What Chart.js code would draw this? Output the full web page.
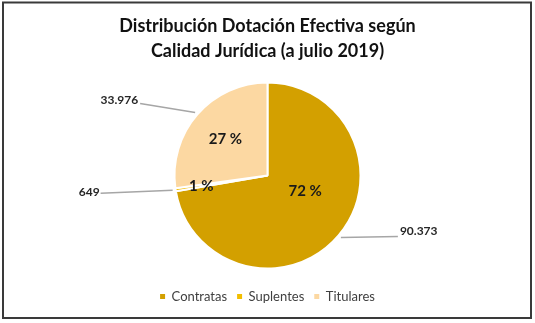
<!DOCTYPE html>
<html>
<head>
<meta charset="utf-8">
<script src="https://cdn.jsdelivr.net/npm/chart.js@4/dist/chart.umd.min.js"></script>
<style>
  html, body { margin: 0; padding: 0; background: #ffffff; }
  #wrap { width: 535px; height: 323px; position: relative; }
</style>
</head>
<body>
<div id="wrap"><canvas id="c" width="535" height="323"></canvas></div>
<script>
const titleLines = ['Distribución Dotación Efectiva según', 'Calidad Jurídica (a julio 2019)'];
const categories = ['Contratas', 'Suplentes', 'Titulares'];
const values = [90373, 649, 33976];
const colors = ['#D3A000', '#F2BE00', '#FCD8A2'];

// label placement styles (relative to each slice geometry)
const pctPlacement = [{t: 0.435, r: 0.44}, {t: 0.5, r: 0.72}, {t: 0.5, r: 0.6}];
const leaderOffsets = [{dx: 57, dy: -1, tdx: 2, tdy: -5, align: 'left'},
                       {dx: -72, dy: 3, tdx: -1, tdy: -1, align: 'right'},
                       {dx: -55, dy: -9, tdx: -2, tdy: -3, align: 'right'}];

function fmtNum(n) { return String(n).replace(/\B(?=(\d{3})+(?!\d))/g, '.'); }

const FONT = 'Lato, "Open Sans", sans-serif';

const framePlugin = {
  id: 'frame',
  beforeDraw(chart) {
    const ctx = chart.ctx;
    ctx.save();
    ctx.fillStyle = '#ffffff';
    ctx.fillRect(0, 0, chart.width, chart.height);
    ctx.restore();
  },
  afterDraw(chart) {
    const ctx = chart.ctx;
    ctx.save();
    ctx.strokeStyle = '#3a3a3a';
    ctx.lineWidth = 2;
    ctx.strokeRect(3, 2.5, 528, 315.5);
    ctx.restore();
  }
};

const labelPlugin = {
  id: 'sliceLabels',
  afterDatasetsDraw(chart) {
    const ctx = chart.ctx;
    const meta = chart.getDatasetMeta(0);
    const data = chart.data.datasets[0].data;
    const total = data.reduce((a, b) => a + b, 0);
    ctx.save();
    meta.data.forEach((arc, i) => {
      const p = arc.getProps(['x', 'y', 'startAngle', 'endAngle', 'outerRadius'], true);
      const pl = pctPlacement[i];
      const a = p.startAngle + (p.endAngle - p.startAngle) * pl.t;
      const px = p.x + Math.cos(a) * p.outerRadius * pl.r;
      const py = p.y + Math.sin(a) * p.outerRadius * pl.r;
      ctx.font = 'bold 15px ' + FONT;
      ctx.fillStyle = '#1a1a1a';
      ctx.textAlign = 'center';
      ctx.textBaseline = 'middle';
      ctx.fillText(Math.round(data[i] / total * 100) + ' %', px, py);
      const mid = (p.startAngle + p.endAngle) / 2;
      const sx = p.x + Math.cos(mid) * (p.outerRadius + 3);
      const sy = p.y + Math.sin(mid) * (p.outerRadius + 3);
      const o = leaderOffsets[i];
      const ex = sx + o.dx, ey = sy + o.dy;
      ctx.strokeStyle = '#A6A6A6';
      ctx.lineWidth = 1.5;
      ctx.beginPath();
      ctx.moveTo(sx, sy);
      ctx.lineTo(ex, ey);
      ctx.stroke();
      ctx.font = 'bold 12px ' + FONT;
      ctx.fillStyle = '#262626';
      ctx.textAlign = o.align;
      ctx.fillText(fmtNum(data[i]), ex + o.tdx, ey + o.tdy);
    });
    ctx.restore();
  }
};

new Chart(document.getElementById('c'), {
  type: 'pie',
  data: {
    labels: categories,
    datasets: [{
      data: values,
      backgroundColor: colors,
      borderColor: '#ffffff',
      borderWidth: 2,
      radius: 93
    }]
  },
  options: {
    responsive: false,
    animation: false,
    events: [],
    layout: { padding: { top: 0, bottom: 10, left: 0, right: 0 } },
    plugins: {
      tooltip: { enabled: false },
      title: {
        display: true,
        text: titleLines,
        color: '#111111',
        font: { family: FONT, size: 18, weight: 'bold', lineHeight: '25px' },
        padding: { top: 14, bottom: 7 }
      },
      legend: {
        display: true,
        position: 'bottom',
        labels: {
          boxWidth: 5,
          boxHeight: 5,
          padding: 10,
          color: '#404040',
          font: { family: FONT, size: 13 },
          generateLabels(chart) {
            const ds = chart.data.datasets[0];
            return chart.data.labels.map((l, i) => ({
              text: l,
              fillStyle: ds.backgroundColor[i],
              strokeStyle: ds.backgroundColor[i],
              lineWidth: 0,
              hidden: false,
              index: i,
              fontColor: '#404040'
            }));
          }
        }
      }
    }
  },
  plugins: [framePlugin, labelPlugin]
});
</script>
</body>
</html>
